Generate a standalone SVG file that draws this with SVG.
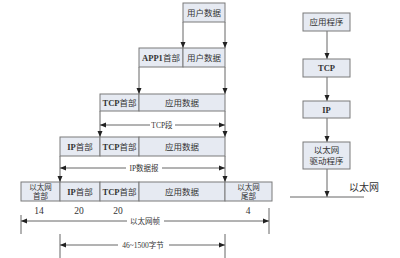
<svg xmlns="http://www.w3.org/2000/svg" width="400" height="258" viewBox="0 0 400 258">
<defs>
<style>
.box{fill:#e6eaf2;stroke:#7a7a7a;stroke-width:1}
.ln{stroke:#666;stroke-width:1;fill:none}
.t{font-family:"Liberation Serif","Noto Sans CJK SC",serif;font-size:8.5px;fill:#333;text-anchor:middle;dominant-baseline:central}
.s{font-size:7.5px}
.n{font-size:9.5px}
.b{font-weight:bold}
</style>
<marker id="ah" viewBox="0 0 6 6" refX="6" refY="3" markerWidth="6" markerHeight="6" markerUnits="userSpaceOnUse" orient="auto">
<path d="M0,0.5 L6,3 L0,5.5 Z" fill="#222"/>
</marker>
</defs>
<rect width="400" height="258" fill="#fff"/>

<g id="connectors">
<line class="ln" x1="183" y1="22" x2="183" y2="48" marker-end="url(#ah)"/>
<line class="ln" x1="225" y1="22" x2="225" y2="48" marker-end="url(#ah)"/>
<line class="ln" x1="139" y1="67" x2="139" y2="94" marker-end="url(#ah)"/>
<line class="ln" x1="225" y1="67" x2="225" y2="94" marker-end="url(#ah)"/>
<line class="ln" x1="100" y1="111" x2="100" y2="137" marker-end="url(#ah)"/>
<line class="ln" x1="225" y1="111" x2="225" y2="137" marker-end="url(#ah)"/>
<line class="ln" x1="60" y1="156" x2="60" y2="182" marker-end="url(#ah)"/>
<line class="ln" x1="225" y1="156" x2="225" y2="182" marker-end="url(#ah)"/>
<line class="ln" x1="150" y1="125" x2="100" y2="125" marker-end="url(#ah)"/>
<line class="ln" x1="175" y1="125" x2="225" y2="125" marker-end="url(#ah)"/>
<line class="ln" x1="126" y1="168" x2="60" y2="168" marker-end="url(#ah)"/>
<line class="ln" x1="162" y1="168" x2="225" y2="168" marker-end="url(#ah)"/>
<line class="ln" x1="21" y1="215" x2="21" y2="234"/>
<line class="ln" x1="269" y1="208" x2="269" y2="234"/>
<line class="ln" x1="127" y1="221" x2="21" y2="221" marker-end="url(#ah)"/>
<line class="ln" x1="164" y1="221" x2="269" y2="221" marker-end="url(#ah)"/>
<line class="ln" x1="60" y1="234" x2="60" y2="258"/>
<line class="ln" x1="225" y1="234" x2="225" y2="258"/>
<line class="ln" x1="118" y1="245" x2="60" y2="245" marker-end="url(#ah)"/>
<line class="ln" x1="169" y1="245" x2="225" y2="245" marker-end="url(#ah)"/>
<line class="ln" x1="327" y1="31" x2="327" y2="59" marker-end="url(#ah)"/>
<line class="ln" x1="327" y1="77" x2="327" y2="101" marker-end="url(#ah)"/>
<line class="ln" x1="327" y1="118" x2="327" y2="142" marker-end="url(#ah)"/>
<line class="ln" x1="327" y1="169" x2="327" y2="197" marker-end="url(#ah)"/>
<line class="ln" x1="290" y1="197" x2="364" y2="197"/>
</g>

<g id="labels">
<text class="t s" x="162" y="125">TCP段</text>
<text class="t s" x="144" y="168">IP数据报</text>
<text class="t s" x="145" y="221">以太网帧</text>
<text class="t s" x="143" y="245">46~1500字节</text>
<text class="t n" x="39" y="211">14</text>
<text class="t n" x="79" y="211">20</text>
<text class="t n" x="118" y="211">20</text>
<text class="t n" x="248" y="211">4</text>
<text class="t" x="364" y="187" style="font-size:10px">以太网</text>
</g>

<g id="row-user">
<rect class="box" x="183" y="3" width="42" height="19"/>
<text class="t" x="204" y="12.5">用户数据</text>
</g>

<g id="row-app">
<rect class="box" x="139" y="48" width="44" height="19"/>
<rect class="box" x="183" y="48" width="42" height="19"/>
<text class="t" x="161" y="57.5"><tspan class="b">APP1</tspan>首部</text>
<text class="t" x="204" y="57.5">用户数据</text>
</g>

<g id="row-tcp">
<rect class="box" x="100" y="94" width="39" height="17"/>
<rect class="box" x="139" y="94" width="86" height="17"/>
<text class="t" x="119.5" y="102.5"><tspan class="b">TCP</tspan>首部</text>
<text class="t" x="182" y="102.5">应用数据</text>
</g>

<g id="row-ip">
<rect class="box" x="60" y="137" width="40" height="19"/>
<rect class="box" x="100" y="137" width="39" height="19"/>
<rect class="box" x="139" y="137" width="86" height="19"/>
<text class="t" x="80" y="146.5"><tspan class="b">IP</tspan>首部</text>
<text class="t" x="119.5" y="146.5"><tspan class="b">TCP</tspan>首部</text>
<text class="t" x="182" y="146.5">应用数据</text>
</g>

<g id="row-eth">
<rect class="box" x="21" y="182" width="39" height="19"/>
<rect class="box" x="60" y="182" width="40" height="19"/>
<rect class="box" x="100" y="182" width="39" height="19"/>
<rect class="box" x="139" y="182" width="86" height="19"/>
<rect class="box" x="225" y="182" width="47" height="19"/>
<text class="t s" x="40.5" y="187">以太网</text>
<text class="t s" x="40.5" y="196.5">首部</text>
<text class="t" x="80" y="191.5"><tspan class="b">IP</tspan>首部</text>
<text class="t" x="119.5" y="191.5"><tspan class="b">TCP</tspan>首部</text>
<text class="t" x="182" y="191.5">应用数据</text>
<text class="t s" x="248.5" y="187">以太网</text>
<text class="t s" x="248.5" y="196.5">尾部</text>
</g>

<g id="stack-app">
<rect class="box" x="303" y="13" width="47" height="18"/>
<text class="t" x="326.5" y="22">应用程序</text>
</g>
<g id="stack-tcp">
<rect class="box" x="303" y="59" width="47" height="18"/>
<text class="t b" x="326.5" y="68">TCP</text>
</g>
<g id="stack-ip">
<rect class="box" x="303" y="101" width="47" height="17"/>
<text class="t b" x="326.5" y="109.5">IP</text>
</g>
<g id="stack-driver">
<rect class="box" x="303" y="142" width="47" height="27"/>
<text class="t" x="326.5" y="150">以太网</text>
<text class="t" x="326.5" y="161">驱动程序</text>
</g>
</svg>
